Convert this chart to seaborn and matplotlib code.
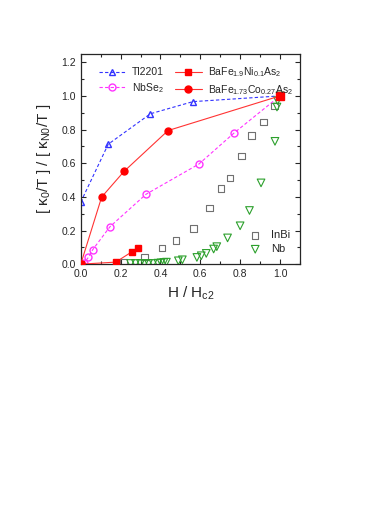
import numpy as np
import pandas as pd
import matplotlib
matplotlib.use('Agg')
import matplotlib.pyplot as plt
import seaborn as sns
from matplotlib.ticker import MultipleLocator

# ---- data ----
tl_h = [0.0, 0.138, 0.35, 0.563, 1.0]
tl_k = [0.369, 0.713, 0.894, 0.966, 1.0]

nbse_h = [0.008, 0.017, 0.038, 0.06, 0.147, 0.327, 0.593, 0.77, 1.0]
nbse_k = [0.0, 0.006, 0.04, 0.086, 0.223, 0.415, 0.595, 0.78, 1.0]

ni_h = [0.0, 0.175, 0.255, 0.285]
ni_k = [0.0, 0.012, 0.072, 0.098]
ni_end_h = [1.0]
ni_end_k = [1.0]

co_h = [0.0, 0.105, 0.217, 0.438, 1.0]
co_k = [0.0, 0.399, 0.551, 0.794, 1.0]

inbi_h = [0.215, 0.32, 0.407, 0.478, 0.565, 0.647, 0.703, 0.748, 0.808,
          0.858, 0.917, 0.972, 1.0]
inbi_k = [0.012, 0.042, 0.096, 0.14, 0.213, 0.335, 0.451, 0.511, 0.643,
          0.766, 0.846, 0.94, 1.0]

nb_h = [0.25, 0.275, 0.3, 0.32, 0.34, 0.363, 0.387, 0.403, 0.417, 0.43,
        0.49, 0.51, 0.583, 0.605, 0.63, 0.667, 0.683, 0.737, 0.8, 0.847,
        0.905, 0.975, 0.985, 0.988, 1.0]
nb_k = [0.004, 0.004, 0.004, 0.004, 0.004, 0.004, 0.006, 0.008, 0.01, 0.012,
        0.02, 0.026, 0.04, 0.05, 0.064, 0.09, 0.104, 0.156, 0.228, 0.319,
        0.483, 0.73, 0.934, 0.972, 1.0]

sns.set_style('ticks')
plt.rcParams['font.family'] = ['Liberation Sans', 'DejaVu Sans']
plt.rcParams['mathtext.fontset'] = 'custom'
plt.rcParams['mathtext.rm'] = 'Liberation Sans'
plt.rcParams['mathtext.it'] = 'Liberation Sans'

fig = plt.figure(figsize=(3.92, 5.08), dpi=100)
ax = fig.add_axes([0.206, 0.48, 0.559, 0.414])

ms = 5
# open-symbol series without line
sns.scatterplot(x=inbi_h, y=inbi_k, ax=ax, marker='s', s=22, facecolor='none',
                edgecolor='#707070', linewidth=0.8, label='InBi', zorder=3)
sns.scatterplot(x=nb_h, y=nb_k, ax=ax, marker='v', s=30, facecolor='none',
                edgecolor='#2ca02c', linewidth=0.8, label='Nb', zorder=3)

l1, = ax.plot(tl_h, tl_k, ls='--', dashes=(3, 2), color='#3333ff', lw=0.8,
              marker='^', ms=ms, mfc='none', mec='#3333ff', label='Tl2201')
l2, = ax.plot(nbse_h, nbse_k, ls='--', dashes=(3, 2), color='#ff33ff', lw=0.8,
              marker='o', ms=ms, mfc='none', mec='#ff33ff', label='NbSe$_2$')
l3, = ax.plot(ni_h, ni_k, ls='-', color='#ff3333', lw=0.8, marker='s', ms=ms,
              mfc='red', mec='red', label='BaFe$_{1.9}$Ni$_{0.1}$As$_2$', zorder=4)
ax.plot(ni_end_h, ni_end_k, ls='none', marker='s', ms=ms + 0.5, mfc='red',
        mec='red', zorder=5)
l4, = ax.plot(co_h, co_k, ls='-', color='#ff3333', lw=0.8, marker='o', ms=ms,
              mfc='red', mec='red', label='BaFe$_{1.73}$Co$_{0.27}$As$_2$', zorder=4)

ax.set_xlim(0, 1.1)
ax.set_ylim(0, 1.25)
ax.xaxis.set_minor_locator(MultipleLocator(0.1))
ax.yaxis.set_major_locator(MultipleLocator(0.2))
ax.yaxis.set_minor_locator(MultipleLocator(0.1))
ax.tick_params(which='both', direction='in', top=True, right=True, labelsize=7.5)
ax.tick_params(which='major', length=3.5, width=0.8)
ax.tick_params(which='minor', length=2, width=0.8)
ax.set_xticks(np.arange(0, 1.01, 0.2))
ax.set_xticklabels(['%.1f' % v for v in np.arange(0, 1.01, 0.2)])
for s in ax.spines.values():
    s.set_linewidth(0.9)

ax.set_xlabel('H / H$_{c2}$', fontsize=11, labelpad=4)
ax.set_ylabel('[ $\\kappa_0$/T ] / [ $\\kappa_{N0}$/T ]', fontsize=11, labelpad=6)

leg1 = ax.legend(handles=[l1, l2, l3, l4], loc='upper left', ncol=2,
                 frameon=False, fontsize=7.5, handlelength=2.6,
                 columnspacing=1.0, labelspacing=0.35, handletextpad=0.6,
                 bbox_to_anchor=(0.04, 0.99))
ax.add_artist(leg1)
h, lab = ax.get_legend_handles_labels()
sel = [i for i, t in enumerate(lab) if t in ('InBi', 'Nb')]
ax.legend([h[i] for i in sel], [lab[i] for i in sel], loc='lower right',
          frameon=False, fontsize=8, handlelength=0.8, handletextpad=1.0,
          labelspacing=0.35, bbox_to_anchor=(1.0, 0.0))

fig.savefig('out.png', dpi=100)
